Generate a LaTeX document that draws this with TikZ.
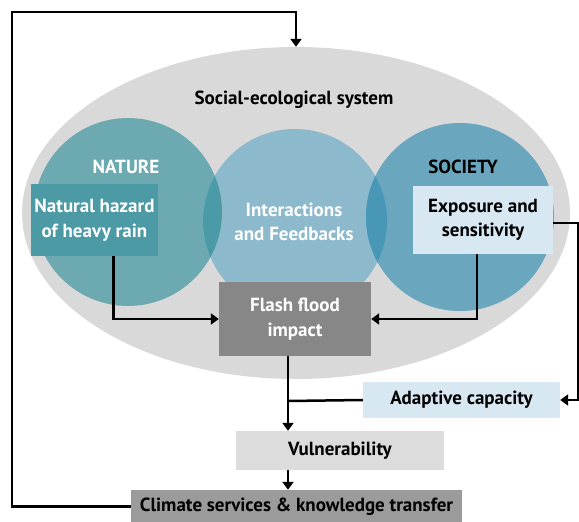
\documentclass[tikz,border=0pt]{standalone}
\usepackage{fontspec}
\setmainfont{PT Sans}
\usetikzlibrary{arrows.meta,shapes.geometric}
\definecolor{sesgray}{HTML}{D9D9D9}
\definecolor{natc}{HTML}{6CA9B0}
\definecolor{midc}{HTML}{8CB9CC}
\definecolor{socc}{HTML}{6AA7BF}
\definecolor{ovA}{HTML}{4B9AA7}
\definecolor{ovB}{HTML}{4997B7}
\definecolor{hazc}{HTML}{4B9AA6}
\definecolor{lblue}{HTML}{D8E8F2}
\definecolor{flashc}{HTML}{878787}
\definecolor{vulc}{HTML}{DCDCDC}
\definecolor{climc}{HTML}{9B9B9B}
\begin{document}
\begin{tikzpicture}[x=1pt,y=-1pt,
  txt/.style={font=\fontsize{19}{24.5}\selectfont\bfseries, align=center},
  box/.style={txt, inner sep=0pt, draw=none},
  conn/.style={line width=2.5pt, draw=black},
  arr/.style={conn, -{Triangle[width=11pt,length=8pt]}}]
\useasboundingbox (0,0) rectangle (579,522);
% big ellipse
\node[ellipse, fill=sesgray, inner sep=0pt, minimum width=548pt, minimum height=332pt] (ses) at (296,213) {};
\node[txt, text=black] (sestxt) at (294,100) {Social-ecological system};
% circles
\node[circle, fill=natc, inner sep=0pt, minimum size=188pt] (nat) at (128,212) {};
\node[circle, fill=midc, inner sep=0pt, minimum size=184pt] (mid) at (295,221) {};
\node[circle, fill=socc, inner sep=0pt, minimum size=188pt] (soc) at (460,217) {};
\begin{scope}
  \clip (128,212) circle[radius=94pt];
  \fill[ovA] (295,221) circle[radius=92pt];
\end{scope}
\begin{scope}
  \clip (460,217) circle[radius=94pt];
  \fill[ovB] (295,221) circle[radius=92pt];
\end{scope}
\node[txt, text=white] (natxt) at (126,167) {NATURE};
\node[txt, text=black] (soctxt) at (463,167) {SOCIETY};
\node[txt, text=white] (inttxt) at (294,222) {Interactions\\and Feedbacks};
% boxes
\node[box, fill=hazc, text=white, minimum width=127pt, minimum height=72pt] (haz) at (94.5,220) {Natural hazard\\of heavy rain};
\node[box, fill=lblue, text=black, minimum width=140pt, minimum height=68pt] (exp) at (483,220) {Exposure and\\sensitivity};
\node[box, fill=flashc, text=white, minimum width=152pt, minimum height=74pt] (flash) at (295,319) {Flash flood\\impact};
\node[box, fill=lblue, text=black, minimum width=197pt, minimum height=36pt] (adapt) at (461.5,400) {Adaptive capacity};
\node[box, fill=vulc, text=black, minimum width=208pt, minimum height=39pt] (vul) at (340,450.5) {Vulnerability};
\node[box, fill=climc, text=black, minimum width=331pt, minimum height=33pt] (clim) at (296.5,506.5) {Climate services \& knowledge transfer};
% connectors
\coordinate (jx) at (288,401);
\coordinate (tl) at (12,12);
\draw[arr] ([xshift=19pt]haz.south) |- (flash.west);
\draw[arr] ([xshift=-6pt]exp.south) |- (flash.east);
\draw[arr] ([yshift=-3pt]exp.east) -- ++(25pt,0) |- (adapt.east);
\draw[arr] (flash.south -| jx) -- (vul.north -| jx);
\draw[conn] (adapt.west) -- (jx);
\draw[arr] (vul.south -| jx) -- (clim.north -| jx);
\draw[arr] (clim.west) -| (tl) -| (ses.north);
\end{tikzpicture}
\end{document}
